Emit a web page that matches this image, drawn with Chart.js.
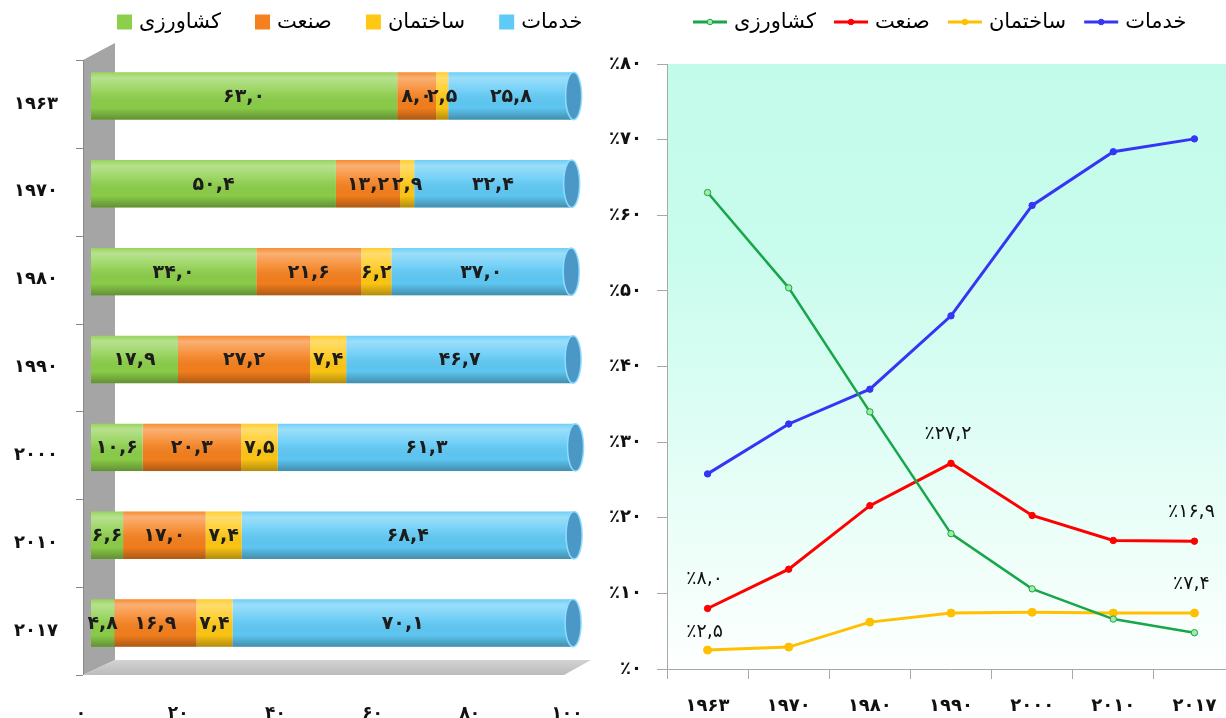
<!DOCTYPE html>
<html>
<head>
<meta charset="utf-8">
<script src="https://cdn.jsdelivr.net/npm/chart.js@4.4.1/dist/chart.umd.min.js"></script>
<style>
  body { margin: 0; width: 1226px; height: 718px; overflow: hidden; position: relative; background: #fff; }
  #barChart { position: absolute; left: 0; top: 0; }
  #lineChart { position: absolute; left: 600px; top: 0; }
</style>
</head>
<body>
<canvas id="barChart" width="600" height="718"></canvas>
<canvas id="lineChart" width="640" height="718"></canvas>
<script>
// data (percent of total employment)
const years = [1963, 1970, 1980, 1990, 2000, 2010, 2017];
const seriesNames = ["کشاورزی", "صنعت", "ساختمان", "خدمات"];
const agriculture = [63.0, 50.4, 34.0, 17.9, 10.6, 6.6, 4.8];
const industry = [8.0, 13.2, 21.6, 27.2, 20.3, 17.0, 16.9];
const construction = [2.5, 2.9, 6.2, 7.4, 7.5, 7.4, 7.4];
const services = [25.8, 32.4, 37.0, 46.7, 61.3, 68.4, 70.1];
const barTicks = [0, 20, 40, 60, 80, 100];
const lineTicks = [0, 10, 20, 30, 40, 50, 60, 70, 80];
// points of the line chart that carry a value label: [series, year index]
const lineLabelled = [[1, 0], [2, 0], [1, 3], [1, 6], [2, 6]];

const series = [agriculture, industry, construction, services];
const barColors = ["#8ccf4a", "#f6801d", "#ffc814", "#5fcaf6"];
const lineColors = ["#17a649", "#ff0000", "#ffc000", "#3535f5"];
const pointFills = ["#a6e8a6", "#ff0000", "#ffc000", "#3535f5"];
const FONT = "'DejaVu Sans', sans-serif";

const fa = s => String(s).replace(/\d/g, d => "۰۱۲۳۴۵۶۷۸۹"[d]);
const faNum = v => fa(v.toFixed(1).replace(".", ","));
const pct = s => "\u202D٪" + s + "\u202C"; // keep the percent sign on the left

// legend drawn above the plot, first item a little right of the plot's left edge
function topLegend(id, markW, gap, drawMark) {
  return {
    id,
    afterDraw(chart) {
      const { ctx, chartArea } = chart;
      ctx.save();
      ctx.font = "21px " + FONT;
      ctx.textAlign = "left"; ctx.textBaseline = "middle";
      let x = chartArea.left + 26;
      chart.data.datasets.forEach((ds, k) => {
        drawMark(ctx, x, 22, k);
        x += markW + 7;
        ctx.fillStyle = "#000";
        ctx.fillText(ds.label, x, 23);
        x += ctx.measureText(ds.label).width + gap;
      });
      ctx.restore();
    }
  };
}

// ---------- left: 3d-looking stacked bars ----------
const bar3d = {
  id: "bar3d",
  beforeDatasetsDraw(chart) {
    const { ctx, chartArea: { left, right, top, bottom }, scales: { y } } = chart;
    const fx = left - 8, bx = left + 24;
    ctx.save();
    // back wall
    ctx.fillStyle = "#a5a5a5";
    ctx.beginPath();
    ctx.moveTo(fx, top + 8); ctx.lineTo(bx, top - 9);
    ctx.lineTo(bx, bottom - 7); ctx.lineTo(fx, bottom + 8);
    ctx.closePath(); ctx.fill();
    // floor
    const g = ctx.createLinearGradient(0, bottom - 7, 0, bottom + 8);
    g.addColorStop(0, "#d2d2d2"); g.addColorStop(1, "#bcbcbc");
    ctx.fillStyle = g;
    ctx.beginPath();
    ctx.moveTo(fx, bottom + 8); ctx.lineTo(bx, bottom - 7);
    ctx.lineTo(right + 14, bottom - 7); ctx.lineTo(right - 13, bottom + 8);
    ctx.closePath(); ctx.fill();
    // front axis with ticks between categories
    ctx.strokeStyle = "#8a8a8a"; ctx.lineWidth = 1;
    ctx.beginPath();
    ctx.moveTo(fx + 0.5, top + 8); ctx.lineTo(fx + 0.5, bottom + 8);
    for (let i = 0; i <= years.length; i++) {
      const ty = Math.round(y.getPixelForValue(i - 0.5)) + 8.5;
      ctx.moveTo(fx - 7, ty); ctx.lineTo(fx, ty);
    }
    ctx.stroke();
    ctx.restore();
  },
  afterDatasetsDraw(chart) {
    const { ctx } = chart;
    const metas = series.map((s, k) => chart.getDatasetMeta(k));
    ctx.save();
    years.forEach((yr, i) => {
      const first = metas[0].data[i], last = metas[metas.length - 1].data[i];
      const h = first.height, yc = first.y, x0 = first.base, x1 = last.x;
      const top = yc - h / 2;
      // cylinder shading
      const g = ctx.createLinearGradient(0, top, 0, top + h);
      g.addColorStop(0, "rgba(255,255,255,0.10)");
      g.addColorStop(0.12, "rgba(255,255,255,0.38)");
      g.addColorStop(0.4, "rgba(255,255,255,0.12)");
      g.addColorStop(0.75, "rgba(0,0,0,0.02)");
      g.addColorStop(1, "rgba(0,0,0,0.30)");
      ctx.fillStyle = g;
      ctx.fillRect(x0, top, x1 - x0, h);
      // end cap
      ctx.beginPath();
      ctx.ellipse(x1, yc, 8, h / 2, 0, 0, Math.PI * 2);
      ctx.fillStyle = "#4b98c6";
      ctx.fill();
      ctx.strokeStyle = "#8edcff"; ctx.lineWidth = 1.5;
      ctx.stroke();
      // value labels
      ctx.fillStyle = "#1c1c1c";
      ctx.font = "bold 19px " + FONT;
      ctx.textAlign = "center"; ctx.textBaseline = "middle";
      metas.forEach((m, k) => {
        const e = m.data[i];
        ctx.fillText(faNum(series[k][i]), (e.base + e.x) / 2, yc + 1);
      });
    });
    ctx.restore();
  }
};

const barLegend = topLegend("barLegend", 15, 34, (ctx, x, y, k) => {
  ctx.fillStyle = barColors[k];
  ctx.fillRect(x, y - 7.5, 15, 15);
});

new Chart(document.getElementById("barChart"), {
  type: "bar",
  data: {
    labels: years.map(fa),
    datasets: seriesNames.map((name, k) => ({
      label: name,
      data: series[k],
      backgroundColor: barColors[k],
      borderWidth: 0,
      barPercentage: 0.54,
      categoryPercentage: 1
    }))
  },
  options: {
    indexAxis: "y",
    responsive: false,
    animation: false,
    layout: { padding: { left: 0, right: 23, top: 52, bottom: 0 } },
    scales: {
      x: {
        stacked: true, min: 0, max: 100,
        afterBuildTicks: s => { s.ticks = barTicks.map(v => ({ value: v })); },
        afterFit: s => { s.height = 51; s.paddingLeft = 0; s.paddingRight = 0; },
        grid: { display: false, drawTicks: false },
        border: { display: false },
        ticks: { labelOffset: -10, padding: 36, color: "#111", font: { family: FONT, size: 17, weight: "bold" }, callback: v => fa(v) }
      },
      y: {
        stacked: true,
        afterFit: s => { s.width = 91; },
        grid: { display: false, drawTicks: false },
        border: { display: false },
        ticks: { labelOffset: 8, padding: 33, color: "#111", font: { family: FONT, size: 18, weight: "bold" } }
      }
    },
    plugins: {
      legend: { display: false },
      tooltip: { enabled: false }
    }
  },
  plugins: [bar3d, barLegend]
});

// ---------- right: line chart ----------
const plotBg = {
  id: "plotBg",
  beforeDraw(chart) {
    const { ctx, chartArea: { left, top, right, bottom } } = chart;
    const g = ctx.createLinearGradient(0, top, 0, bottom);
    g.addColorStop(0, "#c3fbea");
    g.addColorStop(0.3, "#c8fced");
    g.addColorStop(1, "#fdfffe");
    ctx.save();
    ctx.fillStyle = g;
    ctx.fillRect(left, top, right - left, bottom - top);
    ctx.restore();
  }
};

const lineLabels = {
  id: "lineLabels",
  afterDatasetsDraw(chart) {
    const { ctx } = chart;
    ctx.save();
    ctx.fillStyle = "#111";
    ctx.font = "19px " + FONT;
    ctx.textAlign = "center"; ctx.textBaseline = "middle";
    lineLabelled.forEach(([k, i]) => {
      const p = chart.getDatasetMeta(k).data[i];
      const lift = series[k][i] < 5 ? 18 : 29;
      ctx.fillText(pct(faNum(series[k][i])), p.x - 3, p.y - lift);
    });
    ctx.restore();
  }
};

const lineLegend = topLegend("lineLegend", 34, 18, (ctx, x, y, k) => {
  ctx.strokeStyle = lineColors[k];
  ctx.lineWidth = 3;
  ctx.beginPath(); ctx.moveTo(x, y); ctx.lineTo(x + 34, y); ctx.stroke();
  ctx.fillStyle = pointFills[k]; ctx.lineWidth = 1;
  ctx.beginPath(); ctx.arc(x + 17, y, 2.8, 0, Math.PI * 2); ctx.fill(); ctx.stroke();
});

new Chart(document.getElementById("lineChart"), {
  type: "line",
  data: {
    labels: years.map(fa),
    datasets: seriesNames.map((name, k) => ({
      label: name,
      data: series[k],
      borderColor: lineColors[k],
      backgroundColor: lineColors[k],
      borderWidth: k === 0 ? 2.5 : 3,
      pointRadius: k === 2 ? 4 : 3.2,
      pointBackgroundColor: pointFills[k],
      pointBorderColor: lineColors[k],
      pointBorderWidth: 1,
      tension: 0,
      fill: false
    }))
  },
  options: {
    responsive: false,
    animation: false,
    layout: { padding: { left: 0, right: 4, top: 64, bottom: 0 } },
    scales: {
      x: {
        offset: true,
        afterFit: s => { s.height = 49; },
        grid: { offset: true, drawOnChartArea: false, tickLength: 10, color: "#a8a8a8" },
        border: { color: "#a8a8a8" },
        ticks: { padding: 17, color: "#111", font: { family: FONT, size: 18, weight: "bold" } }
      },
      y: {
        min: 0, max: 80,
        afterBuildTicks: s => { s.ticks = lineTicks.map(v => ({ value: v })); },
        afterFit: s => { s.width = 67; },
        grid: { drawOnChartArea: false, tickLength: 10, color: "#a8a8a8" },
        border: { color: "#a8a8a8" },
        ticks: { padding: 15, color: "#111", font: { family: FONT, size: 18, weight: "bold" }, callback: v => pct(fa(v)) }
      }
    },
    plugins: {
      legend: { display: false },
      tooltip: { enabled: false }
    }
  },
  plugins: [plotBg, lineLabels, lineLegend]
});
</script>
</body>
</html>
